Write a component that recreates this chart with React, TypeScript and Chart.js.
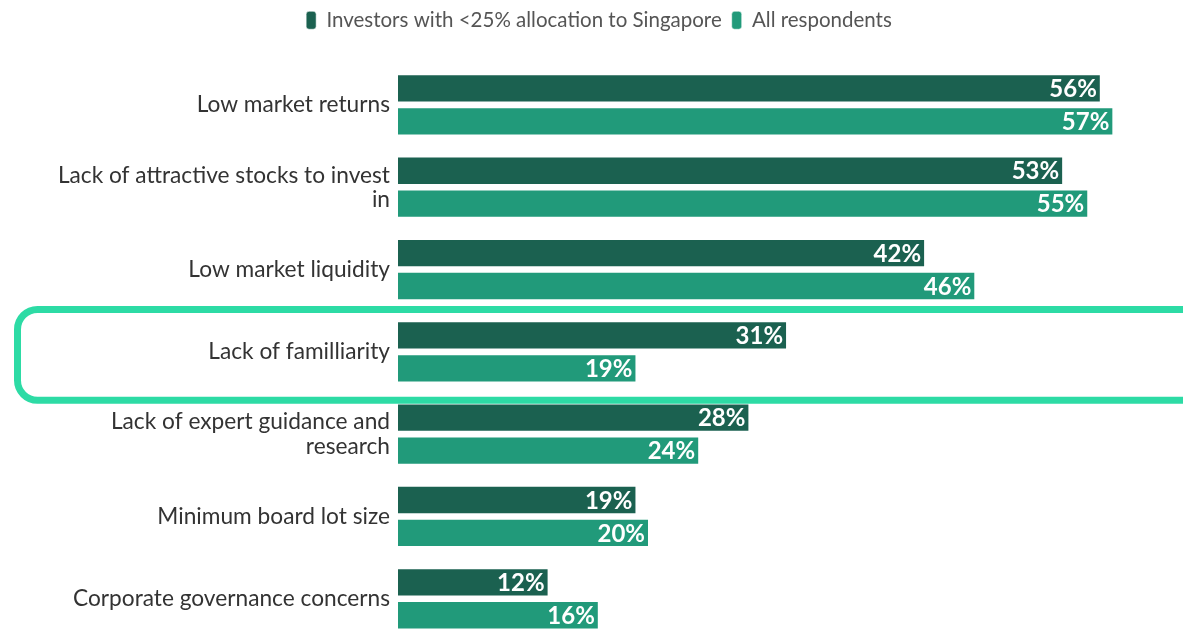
import React, { useEffect, useRef } from 'react';
import { Chart, registerables } from 'chart.js';

Chart.register(...registerables);

const categories: (string | string[])[] = [
  'Low market returns',
  ['Lack of attractive stocks to invest', 'in'],
  'Low market liquidity',
  'Lack of familliarity',
  ['Lack of expert guidance and', 'research'],
  'Minimum board lot size',
  'Corporate governance concerns',
];
const seriesNames = ['Investors with <25% allocation to Singapore', 'All respondents'];
const under25Allocation = [56, 53, 42, 31, 28, 19, 12];
const allRespondents = [57, 55, 46, 19, 24, 20, 16];
const highlightIndex = 3;

const FONT = 'Lato';
const DARK = '#1b6150';
const LIGHT = '#219a7a';
const HIGHLIGHT = '#2ddba5';

const valueLabels = {
  id: 'valueLabels',
  afterDatasetsDraw(chart: any) {
    const ctx = chart.ctx;
    ctx.save();
    ctx.font = `bold 24px ${FONT}`;
    ctx.fillStyle = '#ffffff';
    ctx.textAlign = 'right';
    ctx.textBaseline = 'middle';
    chart.data.datasets.forEach((ds: any, i: number) => {
      chart.getDatasetMeta(i).data.forEach((bar: any, j: number) => {
        ctx.fillText(ds.data[j] + '%', bar.x - 4, bar.y + 1);
      });
    });
    ctx.restore();
  },
};

const highlightBox = {
  id: 'highlightBox',
  afterDraw(chart: any) {
    const y = chart.scales.y;
    const c = y.getPixelForValue(highlightIndex);
    const step = y.getPixelForValue(1) - y.getPixelForValue(0);
    const half = step * 0.552;
    const ctx = chart.ctx;
    ctx.save();
    ctx.strokeStyle = HIGHLIGHT;
    ctx.lineWidth = 7;
    ctx.beginPath();
    ctx.roundRect(17.5, c - half + 3, 1220, half * 2, 20);
    ctx.stroke();
    ctx.restore();
  },
};

export default function App() {
  const ref = useRef<HTMLCanvasElement>(null);
  useEffect(() => {
    if (!ref.current) return;
    const chart = new Chart(ref.current, {
      type: 'bar',
      data: {
        labels: categories as any,
        datasets: [
          {
            label: seriesNames[0],
            data: under25Allocation,
            backgroundColor: DARK,
            borderColor: 'rgba(255,255,255,0.55)',
            borderWidth: 1,
            categoryPercentage: 0.8,
            barPercentage: 0.86,
          },
          {
            label: seriesNames[1],
            data: allRespondents,
            backgroundColor: LIGHT,
            borderColor: 'rgba(255,255,255,0.55)',
            borderWidth: 1,
            categoryPercentage: 0.8,
            barPercentage: 0.86,
          },
        ],
      },
      options: {
        indexAxis: 'y',
        animation: false,
        responsive: true,
        maintainAspectRatio: false,
        layout: { padding: { top: 0, right: 32, bottom: 18.75, left: 47 } },
        plugins: {
          legend: {
            position: 'top',
            labels: {
              boxWidth: 10,
              boxHeight: 18,
              useBorderRadius: true,
              borderRadius: 3,
              padding: 10,
              color: '#555555',
              font: { family: FONT, size: 20.5 },
            },
          },
          tooltip: { enabled: false },
        },
        scales: {
          x: {
            position: 'top',
            min: 0,
            max: 60,
            ticks: { display: false },
            grid: { display: false, drawTicks: false },
            border: { display: false },
            afterFit: (s: any) => {
              s.height = 23.25;
            },
          },
          y: {
            grid: { display: false, drawTicks: false },
            border: { display: false },
            ticks: {
              color: '#333333',
              padding: 8,
              font: { family: FONT, size: 22.7, lineHeight: 1.06 },
            },
            afterFit: (s: any) => {
              s.width = 351;
            },
          },
        },
      },
      plugins: [valueLabels, highlightBox],
    });
    return () => chart.destroy();
  }, []);
  return (
    <div style={{ position: 'absolute', left: 0, top: 0, width: 1183, height: 630, overflow: 'hidden', background: '#fff' }}>
      <div style={{ position: 'relative', width: 1183, height: 660 }}>
        <canvas ref={ref} />
      </div>
    </div>
  );
}
